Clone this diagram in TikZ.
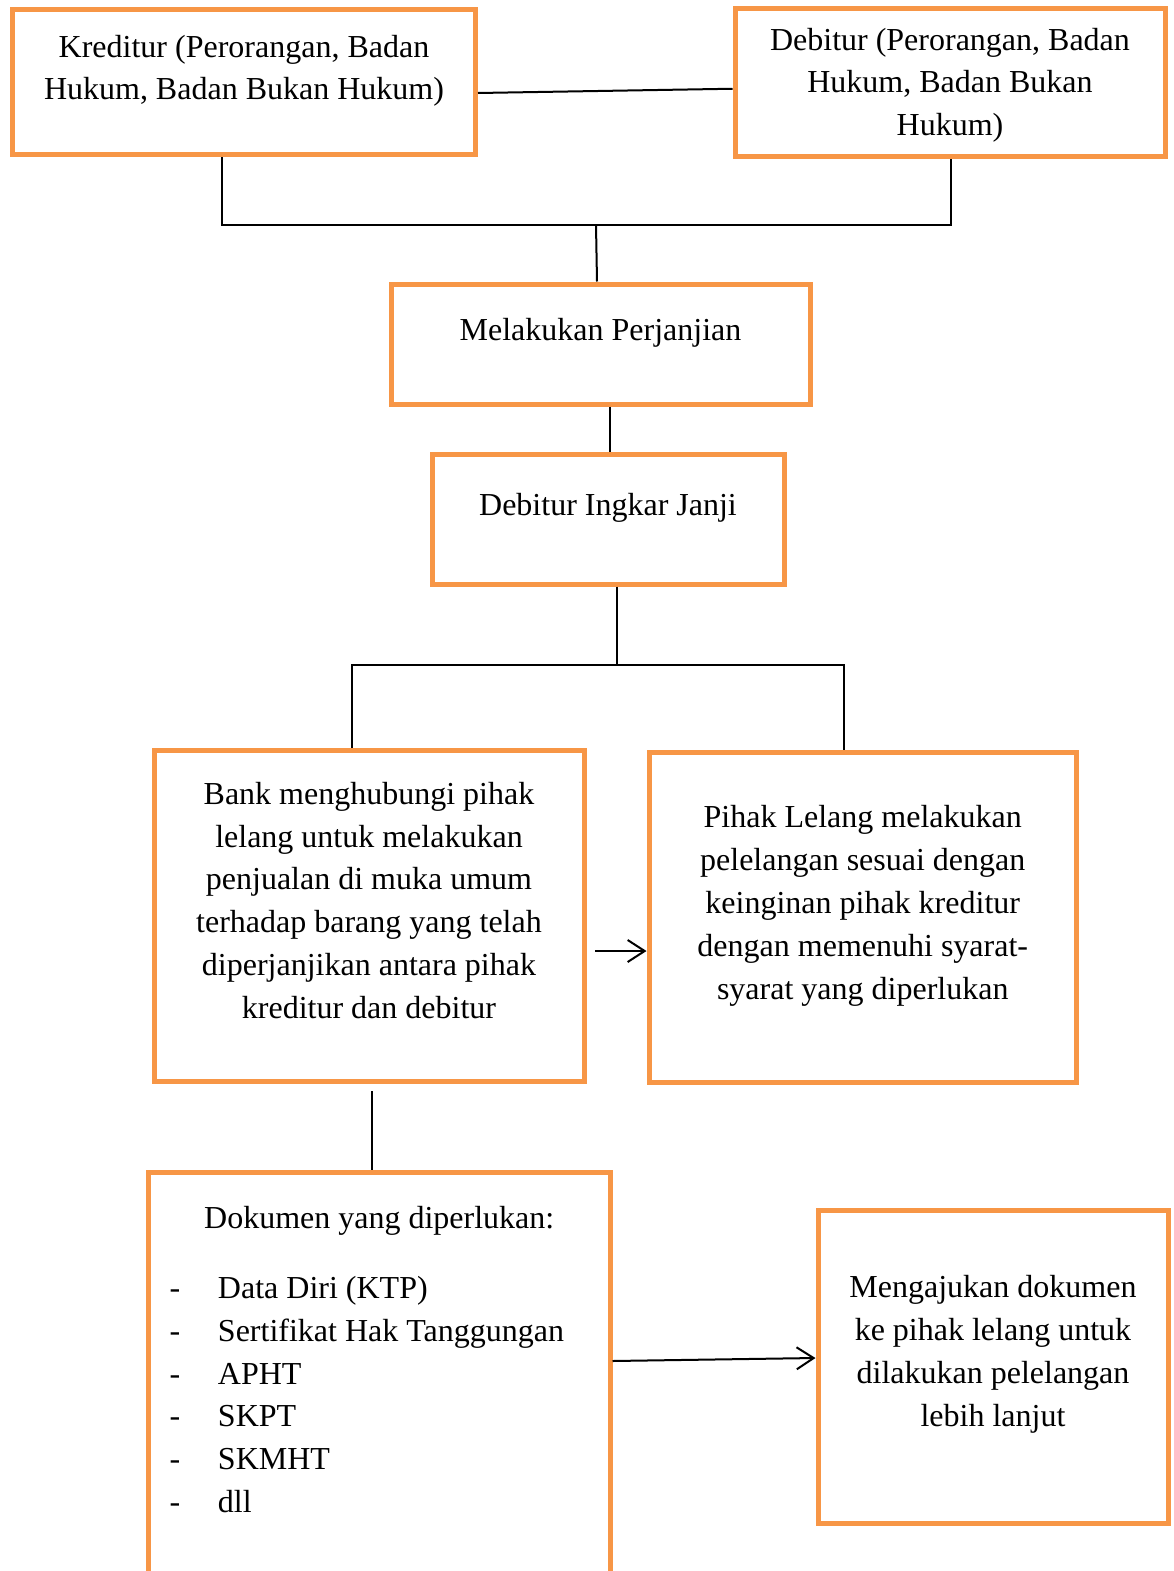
\documentclass[tikz,border=0pt]{standalone}
\usepackage{fontspec}
\setmainfont{Liberation Serif}
\usetikzlibrary{arrows.meta}
\definecolor{boxorange}{HTML}{F79646}
% box text: width, height, top gap, lines
\newcommand{\boxtext}[4]{\parbox[c][#2][t]{#1}{\centering\vspace*{#3}\strut #4\par}}
\newcommand{\docitem}[1]{\hspace*{21pt}\makebox[48.5pt][l]{-}#1}

\begin{document}
\begin{tikzpicture}[
    x=1pt, y=-1pt,
    >={Straight Barb[length=17pt,width=22pt]},
    box/.style={
        rectangle,
        draw=boxorange,
        line width=5pt,
        inner sep=0pt,
        font=\fontsize{32}{42.8}\selectfont
    },
    edge/.style={
        draw=black,
        line width=2pt
    },
    arrowline/.style={
        edge,
        ->
    }
]
\useasboundingbox (0,0) rectangle (1173,1571);
\clip (0,0) rectangle (1173,1571);

% Row 1
\node[box] (kred) at (244,82) {\boxtext{463pt}{145pt}{17.7pt}{Kreditur (Perorangan, Badan\\Hukum, Badan Bukan Hukum)}};
\node[box] (deb) at (950,82.75) {\boxtext{430pt}{147.5pt}{11.2pt}{Debitur (Perorangan, Badan\\Hukum, Badan Bukan\\Hukum)}};

% Row 2
\node[box] (mel) at (600.5,344) {\boxtext{419pt}{120pt}{26.2pt}{Melakukan Perjanjian}};

% Row 3
\node[box] (ingk) at (608,519.25) {\boxtext{352pt}{129.5pt}{30.7pt}{Debitur Ingkar Janji}};

% Row 4
\node[box] (bank) at (369,915.5) {\boxtext{430pt}{331pt}{24.3pt}{Bank menghubungi pihak\\lelang untuk melakukan\\penjualan di muka umum\\terhadap barang yang telah\\diperjanjikan antara pihak\\kreditur dan debitur}};
\node[box] (pihak) at (862.75,917.25) {\boxtext{427.5pt}{329.5pt}{45.5pt}{Pihak Lelang melakukan\\pelelangan sesuai dengan\\keinginan pihak kreditur\\dengan memenuhi syarat-\\syarat yang diperlukan}};

% Row 5
\node[box] (dok) at (379.25,1381) {\parbox[c][418pt][t]{461.5pt}{\centering\vspace*{26.4pt}\strut Dokumen yang diperlukan:\par
    \vspace{27.4pt}\raggedright
    \docitem{Data Diri (KTP)}\\
    \docitem{Sertifikat Hak Tanggungan}\\
    \docitem{APHT}\\
    \docitem{SKPT}\\
    \docitem{SKMHT}\\
    \docitem{dll}\par}};
\node[box] (aju) at (993,1366.5) {\boxtext{350pt}{313pt}{58pt}{Mengajukan dokumen\\ke pihak lelang untuk\\dilakukan pelelangan\\lebih lanjut}};

% Links
\draw[edge] ([yshift=-11pt]kred.east) -- ([yshift=-6pt]deb.west);

\coordinate (j1) at (596,225);
\draw[edge] (222,0 |- kred.south) |- (j1);
\draw[edge] (951,0 |- deb.south) |- (j1);
\draw[edge] (j1) -- (597,0 |- mel.north);

\draw[edge] (610,0 |- mel.south) -- (610,0 |- ingk.north);

\coordinate (j2) at (617,665);
\draw[edge] (617,0 |- ingk.south) -- (j2);
\draw[edge] (j2) -| (352,0 |- bank.north);
\draw[edge] (j2) -| (844,0 |- pihak.north);

\coordinate (b5) at (371.5,1091);
\draw[edge] (b5) -- (371.5,0 |- dok.north);

\coordinate (a1) at (595,951);
\draw[arrowline] (a1) -- (pihak.west |- a1);
\draw[arrowline] (dok.east |- 0,1361) -- (aju.west |- 0,1358);

\end{tikzpicture}
\end{document}
